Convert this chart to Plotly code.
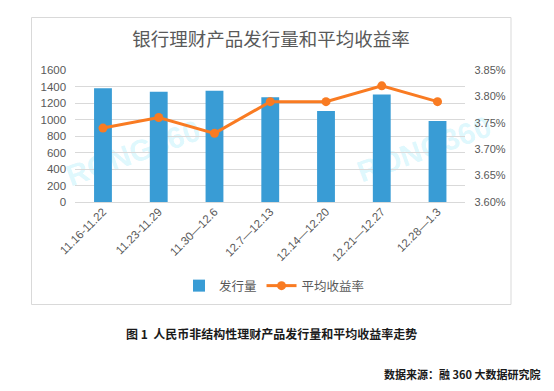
import plotly.graph_objects as go

W, H = 554, 391

categories = ["11.16-11.22", "11.23-11.29", "11.30—12.6", "12.7—12.13",
              "12.14—12.20", "12.21—12.27", "12.28—1.3"]
issuance = [1380, 1337, 1348, 1270, 1102, 1304, 982]
avg_yield = [3.74, 3.76, 3.73, 3.79, 3.79, 3.82, 3.79]

title_text = "银行理财产品发行量和平均收益率"
caption_text = "图 1  人民币非结构性理财产品发行量和平均收益率走势"
source_text = "数据来源：融 360 大数据研究院"
series_names = ["发行量", "平均收益率"]

BAR_C = "#399CD5"
LINE_C = "#F97B22"
GRID_C = "#D9D9D9"
TXT_C = "#595959"
NUMFONT = "Liberation Sans, Noto Sans CJK SC, sans-serif"
CJK = "Noto Sans CJK SC, sans-serif"

def px(x):
    return x / W

def py(y):
    return 1 - y / H

fig = go.Figure()
fig.add_trace(go.Bar(x=categories, y=issuance, name=series_names[0],
                     marker=dict(color=BAR_C, line=dict(width=0)),
                     width=0.32, yaxis="y"))
fig.add_trace(go.Scatter(x=categories, y=avg_yield, name=series_names[1],
                         mode="lines+markers", yaxis="y2",
                         line=dict(color=LINE_C, width=3),
                         marker=dict(color=LINE_C, size=9)))

shapes = [
    dict(type="rect", xref="paper", yref="paper",
         x0=px(31.5), x1=px(511), y0=py(304.5), y1=py(17.5),
         line=dict(color=GRID_C, width=1), fillcolor="rgba(0,0,0,0)", layer="below"),
]
# watermarks
for cx, cy in [(132, 150), (423, 146)]:
    shapes.append(dict(type="rect", xref="paper", yref="paper",
                       x0=px(cx - 75), x1=px(cx + 75), y0=py(cy + 25), y1=py(cy - 25),
                       line=dict(width=0), fillcolor="rgba(0,0,0,0)", layer="below",
                       label=dict(text="<b>RONG360</b>", textangle=-20,
                                  textposition="middle center",
                                  font=dict(size=30, color="rgba(0,200,240,0.15)",
                                            family=NUMFONT))))

fig.update_layout(
    width=W, height=H,
    margin=dict(l=0, r=0, t=0, b=0),
    paper_bgcolor="white", plot_bgcolor="white",
    title=dict(text=title_text, x=px(271), y=py(40), xanchor="center", yanchor="middle",
               font=dict(size=18.5, color=TXT_C, family=CJK)),
    xaxis=dict(domain=[px(75.1), px(465.4)], type="category", automargin=False,
               tickangle=-45, showgrid=False, showline=False, ticks="",
               tickfont=dict(size=11.5, color=TXT_C, family=NUMFONT)),
    yaxis=dict(range=[0, 1600], dtick=200, domain=[py(202), py(70)], automargin=False,
               showgrid=True, gridcolor=GRID_C, gridwidth=1,
               zeroline=True, zerolinecolor=GRID_C, zerolinewidth=1,
               showline=False, ticks="", ticklabelstandoff=8,
               tickfont=dict(size=11.5, color=TXT_C, family=NUMFONT)),
    yaxis2=dict(range=[3.60, 3.85], dtick=0.05, tick0=3.60, overlaying="y", side="right",
                automargin=False,
                showgrid=False, zeroline=False, showline=False, ticks="",
                tickformat=".2f", ticksuffix="%", ticklabelstandoff=8,
                tickfont=dict(size=11, color=TXT_C, family=NUMFONT)),
    legend=dict(orientation="h", x=px(274.5), y=py(286), xanchor="center", yanchor="middle",
                font=dict(size=12.5, color=TXT_C, family=CJK), bgcolor="rgba(0,0,0,0)",
                itemwidth=30, traceorder="normal"),
    bargap=0.68,
    shapes=shapes,
    annotations=[
        dict(text="<b>" + caption_text + "</b>", xref="paper", yref="paper",
             x=px(271), y=py(333), xanchor="center", yanchor="middle", showarrow=False,
             font=dict(size=12, color="#1A1A1A", family=CJK)),
        dict(text="<b>" + source_text + "</b>", xref="paper", yref="paper",
             x=px(542), y=py(374), xanchor="right", yanchor="middle", showarrow=False,
             font=dict(size=11, color="#1A1A1A", family=CJK)),
    ],
)

fig.write_html("out.html",
               config={"displayModeBar": False},
               post_script="document.body.style.margin='0';document.body.style.overflow='hidden';")
